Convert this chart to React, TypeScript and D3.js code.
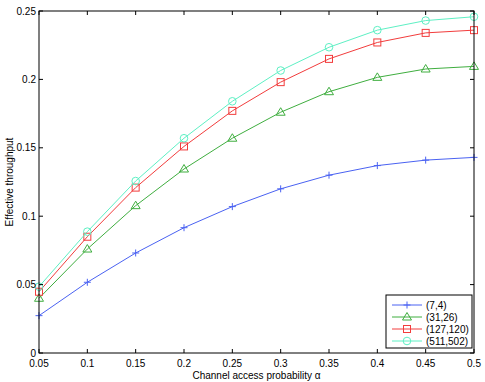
import React from "react";
import * as d3 from "d3";

const alphas = [0.05, 0.1, 0.15, 0.2, 0.25, 0.3, 0.35, 0.4, 0.45, 0.5];
const s74 = [0.0273, 0.0517, 0.0731, 0.0916, 0.107, 0.120, 0.130, 0.137, 0.141, 0.143];
const s3126 = [0.040, 0.076, 0.1077, 0.1345, 0.157, 0.176, 0.191, 0.2015, 0.2076, 0.2095];
const s127 = [0.0448, 0.085, 0.1209, 0.151, 0.177, 0.198, 0.215, 0.227, 0.234, 0.236];
const s511 = [0.0485, 0.0887, 0.1257, 0.157, 0.184, 0.2065, 0.2235, 0.236, 0.243, 0.2458];
const seriesNames = ["(7,4)", "(31,26)", "(127,120)", "(511,502)"];
const seriesColors = ["#4a62f2", "#3fae3f", "#f23c3c", "#5ef0c4"];
const xTicks = [0.05, 0.1, 0.15, 0.2, 0.25, 0.3, 0.35, 0.4, 0.45, 0.5];
const yTicks = [0, 0.05, 0.1, 0.15, 0.2, 0.25];

const W = 485, H = 382;
const L = 39, R = 474, T = 11, B = 353;

function Marker({ kind, x, y, color }: { kind: number; x: number; y: number; color: string }) {
  if (kind === 0)
    return (
      <g stroke={color} strokeWidth={1}>
        <line x1={x - 3.5} x2={x + 3.5} y1={y} y2={y} />
        <line x1={x} x2={x} y1={y - 3.5} y2={y + 3.5} />
      </g>
    );
  if (kind === 1)
    return <path d={`M${x},${y - 4.5}L${x + 4.5},${y + 3}L${x - 4.5},${y + 3}Z`} fill="none" stroke={color} strokeWidth={1} />;
  if (kind === 2)
    return <rect x={x - 3.5} y={y - 3.5} width={7} height={7} fill="none" stroke={color} strokeWidth={1} />;
  return <circle cx={x} cy={y} r={3.8} fill="none" stroke={color} strokeWidth={1} />;
}

export default function App() {
  const x = d3.scaleLinear().domain([0.05, 0.5]).range([L, R]);
  const y = d3.scaleLinear().domain([0, 0.25]).range([B, T]);
  const all = [s74, s3126, s127, s511];
  const line = d3
    .line<number>()
    .x((_, i) => x(alphas[i]))
    .y((d) => y(d));
  const font = "'Liberation Sans', Arial, Helvetica, sans-serif";
  const legX = 386, legY = 295, legW = 86, legH = 53;
  return (
    <svg width={W} height={H} style={{ position: "absolute", left: 0, top: 0, background: "#fff" }} fontFamily={font}>
      <rect x={0} y={0} width={W} height={H} fill="#fff" />
      {all.map((s, k) => (
        <g key={k}>
          <path d={line(s) || ""} fill="none" stroke={seriesColors[k]} strokeWidth={1} />
          {s.map((v, i) => (
            <Marker key={i} kind={k} x={x(alphas[i])} y={y(v)} color={seriesColors[k]} />
          ))}
        </g>
      ))}
      <rect x={L} y={T} width={R - L} height={B - T} fill="none" stroke="#000" strokeWidth={1} />
      {xTicks.map((t, i) => (
        <g key={i}>
          <line x1={x(t)} x2={x(t)} y1={B} y2={B - 4} stroke="#000" />
          <line x1={x(t)} x2={x(t)} y1={T} y2={T + 4} stroke="#000" />
          <text x={x(t)} y={367} fontSize={10} textAnchor="middle" fill="#000">
            {t}
          </text>
        </g>
      ))}
      {yTicks.map((t, i) => (
        <g key={i}>
          <line x1={L} x2={L + 4} y1={y(t)} y2={y(t)} stroke="#000" />
          <line x1={R} x2={R - 4} y1={y(t)} y2={y(t)} stroke="#000" />
          <text x={36} y={y(t) + 3.5} fontSize={10} textAnchor="end" fill="#000">
            {t}
          </text>
        </g>
      ))}
      <text x={(L + R) / 2} y={379} fontSize={10} textAnchor="middle" fill="#000">
        Channel access probability α
      </text>
      <text transform={`translate(13,${(T + B) / 2}) rotate(-90)`} fontSize={10} textAnchor="middle" fill="#000">
        Effective throughput
      </text>
      <rect x={legX} y={legY} width={legW} height={legH} fill="#fff" stroke="#000" strokeWidth={1} />
      {seriesNames.map((n, k) => {
        const yy = legY + 10 + k * 12;
        return (
          <g key={k}>
            <line x1={392} x2={422} y1={yy} y2={yy} stroke={seriesColors[k]} />
            <Marker kind={k} x={407} y={yy} color={seriesColors[k]} />
            <text x={426} y={yy + 3.5} fontSize={10} fill="#000">
              {n}
            </text>
          </g>
        );
      })}
    </svg>
  );
}
